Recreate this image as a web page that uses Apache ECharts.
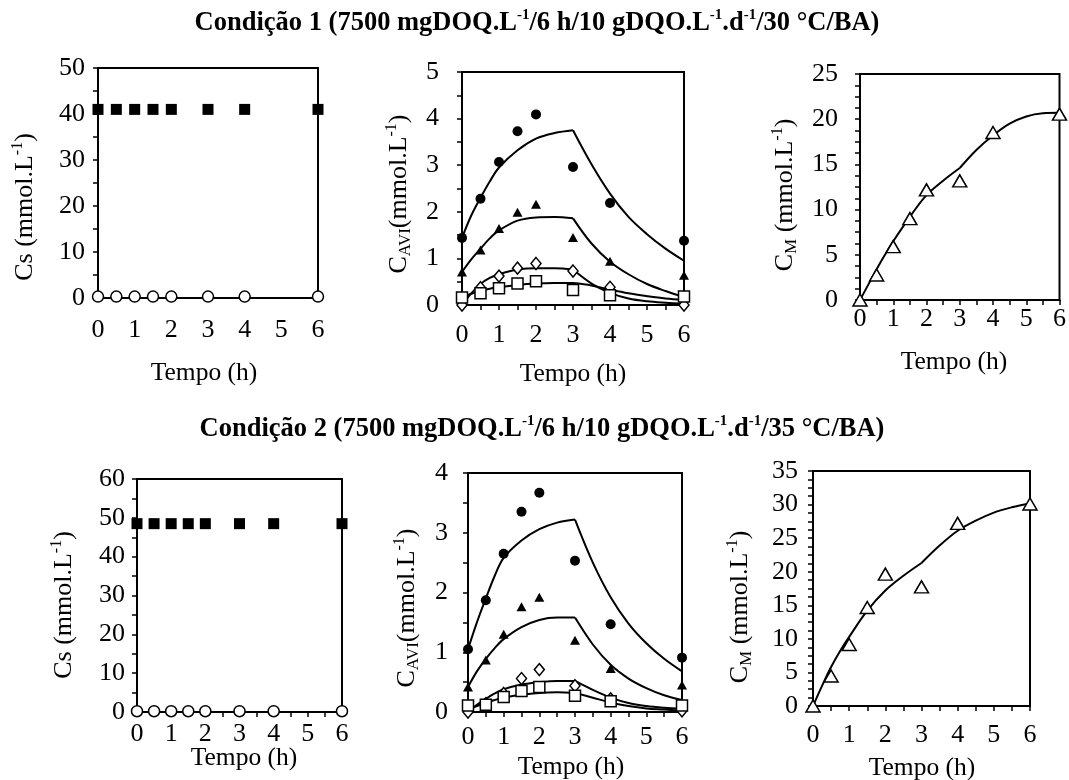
<!DOCTYPE html>
<html><head><meta charset="utf-8">
<script src="https://cdn.jsdelivr.net/npm/echarts@6/dist/echarts.min.js"></script>
<style>html,body{margin:0;padding:0;background:#fff}#c{width:1069px;height:780px}</style>
</head><body><div id="c"></div>
<script>
// ---------- DATA ----------
const times = [0, 0.5, 1, 1.5, 2, 3, 4, 6];
const riseTimes = [0, 0.25, 0.5, 0.75, 1, 1.5, 2, 2.5, 3];
const decayTimes = [3, 3.5, 4, 4.5, 5, 5.5, 6];
const xTicks = [0, 1, 2, 3, 4, 5, 6];

// Condição 1 — Cs
const c1SubstrateSquares = [41, 41, 41, 41, 41, 41, 41, 41];
const c1SubstrateCircles = [0.3, 0.3, 0.3, 0.3, 0.3, 0.3, 0.3, 0.3];
// Condição 1 — C_AVI (measured)
const c1Circles   = [1.44, 2.28, 3.07, 3.73, 4.09, 2.96, 2.19, 1.38];
const c1Triangles = [0.71, 1.18, 1.64, 1.99, 2.16, 1.45, 0.94, 0.64];
const c1Diamonds  = [0.0, 0.37, 0.62, 0.79, 0.89, 0.73, 0.38, 0.0];
const c1Squares   = [0.16, 0.25, 0.36, 0.46, 0.51, 0.32, 0.21, 0.18];
// Condição 1 — C_AVI (model)
const c1CirclesRise    = [1.44, 1.92, 2.30, 2.65, 2.95, 3.32, 3.57, 3.69, 3.75];
const c1CirclesDecay   = [3.75, 3.02, 2.39, 1.89, 1.52, 1.21, 0.95];
const c1TrianglesRise  = [0.71, 0.98, 1.21, 1.43, 1.60, 1.81, 1.88, 1.89, 1.86];
const c1TrianglesDecay = [1.86, 1.32, 0.93, 0.66, 0.45, 0.30, 0.17];
const c1DiamondsRise   = [0.0, 0.25, 0.45, 0.58, 0.66, 0.76, 0.79, 0.79, 0.76];
const c1DiamondsDecay  = [0.76, 0.46, 0.26, 0.14, 0.08, 0.05, 0.03];
const c1SquaresRise    = [0.16, 0.24, 0.30, 0.35, 0.38, 0.43, 0.46, 0.47, 0.47];
const c1SquaresDecay   = [0.47, 0.42, 0.33, 0.25, 0.19, 0.14, 0.11];
// Condição 1 — C_M
const c1Methane      = [0, 2.77, 5.9, 9.0, 12.18, 13.18, 18.53, 20.56];
const c1MethaneRise  = [0, 1.7, 3.4, 5.0, 6.5, 9.2, 11.6, 13.2, 14.6];
const c1MethaneDecay = [14.6, 16.6, 18.2, 19.5, 20.3, 20.65, 20.7];

// Condição 2 — Cs
const c2SubstrateSquares = [48.5, 48.5, 48.5, 48.5, 48.5, 48.5, 48.5, 48.5];
const c2SubstrateCircles = [0.2, 0.2, 0.2, 0.2, 0.2, 0.2, 0.2, 0.2];
// Condição 2 — C_AVI (measured)
const c2Circles   = [1.05, 1.87, 2.65, 3.35, 3.67, 2.53, 1.47, 0.91];
const c2Triangles = [0.42, 0.87, 1.30, 1.76, 1.92, 1.20, 0.73, 0.45];
const c2Diamonds  = [0.0, 0.14, 0.31, 0.56, 0.71, 0.44, 0.22, 0.02];
const c2Squares   = [0.11, 0.12, 0.25, 0.35, 0.42, 0.27, 0.18, 0.11];
// Condição 2 — C_AVI (model)
const c2CirclesRise    = [1.05, 1.50, 1.90, 2.28, 2.58, 2.87, 3.06, 3.17, 3.22];
const c2CirclesDecay   = [3.22, 2.50, 1.92, 1.48, 1.15, 0.89, 0.68];
const c2TrianglesRise  = [0.42, 0.68, 0.89, 1.07, 1.22, 1.42, 1.54, 1.58, 1.58];
const c2TrianglesDecay = [1.58, 1.13, 0.79, 0.56, 0.40, 0.28, 0.20];
const c2DiamondsRise   = [0.0, 0.12, 0.22, 0.31, 0.38, 0.46, 0.50, 0.52, 0.52];
const c2DiamondsDecay  = [0.52, 0.37, 0.24, 0.15, 0.10, 0.07, 0.05];
const c2SquaresRise    = [0.05, 0.10, 0.15, 0.20, 0.24, 0.29, 0.32, 0.33, 0.32];
const c2SquaresDecay   = [0.32, 0.24, 0.16, 0.10, 0.06, 0.04, 0.02];
// Condição 2 — C_M
const c2Methane      = [0, 4.47, 9.15, 14.67, 19.64, 17.75, 27.2, 30.08];
const c2MethaneRise  = [0, 3.0, 5.8, 8.2, 10.3, 14.2, 17.2, 19.4, 21.3];
const c2MethaneDecay = [21.3, 23.9, 26.1, 27.6, 28.8, 29.6, 30.2];

const title1 = ['Condição 1 (7500 mgDOQ.L', '-1', '/6 h/10 gDQO.L', '-1', '.d', '-1', '/30 °C/BA)'];
const title2 = ['Condição 2 (7500 mgDOQ.L', '-1', '/6 h/10 gDQO.L', '-1', '.d', '-1', '/35 °C/BA)'];
const xName = 'Tempo (h)';

// ---------- LAYOUT ----------
const FONT = "'Liberation Serif', 'Times New Roman', serif";
const TICK_FS = 26;
const grids = [
  {left: 98,  top: 68,  width: 220, height: 230},
  {left: 462, top: 72,  width: 222, height: 233},
  {left: 860, top: 74,  width: 200, height: 226},
  {left: 137, top: 479, width: 205, height: 233},
  {left: 468, top: 473, width: 214, height: 239},
  {left: 813, top: 471, width: 217, height: 235}
];
const yCfg = [
  {max: 50, interval: 10, minor: 2, margin: 13},
  {max: 5,  interval: 1,  minor: 2, margin: 23},
  {max: 25, interval: 5,  minor: 4, margin: 22},
  {max: 60, interval: 10, minor: 2, margin: 12},
  {max: 4,  interval: 1,  minor: 2, margin: 20},
  {max: 35, interval: 5,  minor: 4, margin: 15}
];
const xMargins = [19, 17, 6, 9, 12, 16];

const pairs = (xs, ys) => xs.map((x, i) => [x, ys[i]]);

const xAxes = grids.map((g, i) => ({
  gridIndex: i, type: 'value', min: 0, max: 6, interval: 1,
  axisLine: {show: true, onZero: false, lineStyle: {color: '#000', width: 2}},
  axisTick: {show: i !== 0, inside: false, length: 5, lineStyle: {color: '#000', width: 1.5}},
  minorTick: {show: i !== 0, splitNumber: 2, length: 5, lineStyle: {color: '#000', width: 1.5}},
  splitLine: {show: false},
  axisLabel: {color: '#000', fontSize: TICK_FS, fontFamily: FONT, margin: xMargins[i],
    formatter: v => xTicks.includes(v) ? String(v) : ''}
}));
const yAxes = grids.map((g, i) => ({
  gridIndex: i, type: 'value', min: 0, max: yCfg[i].max, interval: yCfg[i].interval,
  axisLine: {show: true, onZero: false, lineStyle: {color: '#000', width: 2}},
  axisTick: {show: true, inside: false, length: 5, lineStyle: {color: '#000', width: 1.5}},
  minorTick: {show: true, splitNumber: yCfg[i].minor, length: 5, lineStyle: {color: '#000', width: 1.5}},
  splitLine: {show: false},
  axisLabel: {color: '#000', fontSize: TICK_FS, fontFamily: FONT, margin: yCfg[i].margin}
}));

const SYM = {
  fsq: {symbol: 'rect', symbolSize: 11, itemStyle: {color: '#000', opacity: 1}},
  ocirc: {symbol: 'circle', symbolSize: 11, itemStyle: {color: '#fff', borderColor: '#000', borderWidth: 1.5, opacity: 1}},
  fcirc: {symbol: 'circle', symbolSize: 10, itemStyle: {color: '#000', opacity: 1}},
  ftri: {symbol: 'triangle', symbolSize: [10, 9], itemStyle: {color: '#000', opacity: 1}},
  odia: {symbol: 'diamond', symbolSize: [10, 12], itemStyle: {color: '#fff', borderColor: '#000', borderWidth: 1.5, opacity: 1}},
  osq: {symbol: 'rect', symbolSize: 11, itemStyle: {color: '#fff', borderColor: '#000', borderWidth: 1.5, opacity: 1}},
  otri: {symbol: 'triangle', symbolSize: [14, 12], itemStyle: {color: '#fff', borderColor: '#000', borderWidth: 1.5, opacity: 1}}
};
function scatter(idx, name, ys, sym) {
  return Object.assign({type: 'scatter', name, xAxisIndex: idx, yAxisIndex: idx, clip: false, z: 5,
    data: pairs(times, ys)}, JSON.parse(JSON.stringify(SYM[sym])));
}
function model(idx, name, xs, ys) {
  return {type: 'line', name, xAxisIndex: idx, yAxisIndex: idx, showSymbol: false, smooth: 0.35,
    clip: false, z: 3, lineStyle: {color: '#000', width: 2, opacity: 1}, data: pairs(xs, ys)};
}

const series = [
  scatter(0, 'Cs ■', c1SubstrateSquares, 'fsq'),
  scatter(0, 'Cs ○', c1SubstrateCircles, 'ocirc'),
  model(1, '● modelo', riseTimes, c1CirclesRise), model(1, '● modelo', decayTimes, c1CirclesDecay),
  model(1, '▲ modelo', riseTimes, c1TrianglesRise), model(1, '▲ modelo', decayTimes, c1TrianglesDecay),
  model(1, '◇ modelo', riseTimes, c1DiamondsRise), model(1, '◇ modelo', decayTimes, c1DiamondsDecay),
  model(1, '□ modelo', riseTimes, c1SquaresRise), model(1, '□ modelo', decayTimes, c1SquaresDecay),
  scatter(1, '●', c1Circles, 'fcirc'), scatter(1, '▲', c1Triangles, 'ftri'),
  scatter(1, '◇', c1Diamonds, 'odia'), scatter(1, '□', c1Squares, 'osq'),
  model(2, 'CM modelo', riseTimes, c1MethaneRise), model(2, 'CM modelo', decayTimes, c1MethaneDecay),
  scatter(2, 'CM', c1Methane, 'otri'),

  scatter(3, 'Cs ■', c2SubstrateSquares, 'fsq'),
  scatter(3, 'Cs ○', c2SubstrateCircles, 'ocirc'),
  model(4, '● modelo', riseTimes, c2CirclesRise), model(4, '● modelo', decayTimes, c2CirclesDecay),
  model(4, '▲ modelo', riseTimes, c2TrianglesRise), model(4, '▲ modelo', decayTimes, c2TrianglesDecay),
  model(4, '◇ modelo', riseTimes, c2DiamondsRise), model(4, '◇ modelo', decayTimes, c2DiamondsDecay),
  model(4, '□ modelo', riseTimes, c2SquaresRise), model(4, '□ modelo', decayTimes, c2SquaresDecay),
  scatter(4, '●', c2Circles, 'fcirc'), scatter(4, '▲', c2Triangles, 'ftri'),
  scatter(4, '◇', c2Diamonds, 'odia'), scatter(4, '□', c2Squares, 'osq'),
  model(5, 'CM modelo', riseTimes, c2MethaneRise), model(5, 'CM modelo', decayTimes, c2MethaneDecay),
  scatter(5, 'CM', c2Methane, 'otri')
];

// ---------- TEXT ----------
const richAxis = {
  n: {fontSize: 26, fontFamily: FONT, lineHeight: 30, fill: '#000'},
  sup: {fontSize: 16, fontFamily: FONT, lineHeight: 16, verticalAlign: 'top', fill: '#000'},
  sub: {fontSize: 17, fontFamily: FONT, lineHeight: 17, verticalAlign: 'bottom', fill: '#000'}
};
function yNameText(x, y, text) {
  return {type: 'text', x, y, rotation: Math.PI / 2, z: 10,
    style: {text, rich: richAxis, align: 'center', verticalAlign: 'middle', fill: '#000', font: '26px ' + FONT}};
}
function xNameText(x, y) {
  return {type: 'text', x, y, z: 10,
    style: {text: xName, align: 'center', verticalAlign: 'middle', fill: '#000', fontSize: 25.5, fontFamily: FONT}};
}
function titleText(x, y, parts) {
  const text = parts.map((p, i) => (i % 2 === 0 ? '{b|' : '{s|') + p + '}').join('');
  return {type: 'text', x, y, z: 10,
    style: {text, align: 'center', verticalAlign: 'middle', fill: '#000',
      rich: {
        b: {fontSize: 26.5, fontWeight: 'bold', fontFamily: FONT, lineHeight: 30, fill: '#000'},
        s: {fontSize: 15, fontWeight: 'bold', fontFamily: FONT, lineHeight: 15, verticalAlign: 'top', fill: '#000'}
      }}};
}
const csName = '{n|Cs (mmol.L}{sup|-1}{n|)}';
const caviName = '{n|C}{sub|AVI}{n|(mmol.L}{sup|-1}{n|)}';
const cmName = '{n|C}{sub|M}{n| (mmol.L}{sup|-1}{n|)}';

const graphic = [
  titleText(537, 23, title1),
  titleText(542, 429, title2),
  yNameText(25, 207, csName), yNameText(399, 194, caviName), yNameText(785, 195, cmName),
  yNameText(64, 605, csName), yNameText(407, 608, caviName), yNameText(740, 607, cmName),
  xNameText(204, 373), xNameText(573, 374), xNameText(954, 362),
  xNameText(244, 758), xNameText(571, 767), xNameText(922, 768)
];

const chart = echarts.init(document.getElementById('c'), null, {renderer: 'canvas'});
chart.setOption({
  animation: false,
  backgroundColor: '#fff',
  textStyle: {fontFamily: FONT},
  grid: grids.map(g => Object.assign({show: true, borderColor: '#000', borderWidth: 2, backgroundColor: 'transparent'}, g)),
  xAxis: xAxes,
  yAxis: yAxes,
  series,
  graphic
});
</script></body></html>
